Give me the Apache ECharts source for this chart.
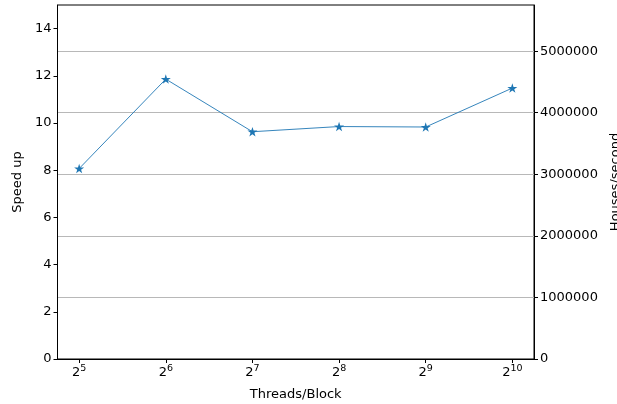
<!DOCTYPE html>
<html><head><meta charset="utf-8">
<script src="https://cdn.jsdelivr.net/npm/echarts@6/dist/echarts.min.js"></script>
<style>html,body{margin:0;padding:0;background:#fff}#c{width:617px;height:404px}</style>
</head><body><div id="c"></div>
<script>
const exponents = [5, 6, 7, 8, 9, 10];
const speedUp = [8.07, 11.86, 9.63, 9.85, 9.83, 11.48];
const leftTicks = [0, 2, 4, 6, 8, 10, 12, 14];
const rightTicks = [0, 1000000, 2000000, 3000000, 4000000, 5000000];

const F = 'DejaVu Sans';
const chart = echarts.init(document.getElementById('c'), null, {renderer: 'canvas'});
const star = 'path://M0,-100L22.45,-30.9L95.1,-30.9L36.3,11.8L58.8,80.9L0,38.2L-58.8,80.9L-36.3,11.8L-95.1,-30.9L-22.45,-30.9Z';
chart.setOption({
  animation: false,
  grid: {left: 57.5, right: 83, top: 5, bottom: 45, show: true, borderColor: '#000', borderWidth: 1,
         containLabel: false, outerBoundsMode: 'none'},
  xAxis: {
    type: 'value', min: 4.75, max: 10.25,
    name: 'Threads/Block', nameLocation: 'middle', nameGap: 29,
    nameTextStyle: {fontFamily: F, fontSize: 13, color: '#000'},
    axisLine: {show: true, lineStyle: {color: '#000', width: 1}},
    axisTick: {show: true, length: 4, lineStyle: {color: '#000'}, customValues: exponents},
    axisLabel: {
      customValues: exponents, margin: 5,
      formatter: v => '{b|2}{s|' + v + '}',
      rich: {
        b: {fontFamily: F, fontSize: 13, color: '#000'},
        s: {fontFamily: F, fontSize: 9.5, color: '#000', padding: [0, 0, 7, 0]}
      }
    },
    splitLine: {show: false}
  },
  yAxis: [{
    type: 'value', min: 0, max: 15, position: 'left',
    name: 'Speed up', nameLocation: 'middle', nameGap: 32, nameRotate: 90,
    nameTextStyle: {fontFamily: F, fontSize: 13, color: '#000'},
    axisLine: {show: true, lineStyle: {color: '#000', width: 1}},
    axisTick: {show: true, length: 4, lineStyle: {color: '#000'}, customValues: leftTicks},
    axisLabel: {customValues: leftTicks, fontFamily: F, fontSize: 13, color: '#000', margin: 6},
    splitLine: {show: false}
  }, {
    type: 'value', min: 0, max: 5750000, interval: 1000000, position: 'right',
    name: 'Houses/second', nameLocation: 'middle', nameGap: 70, nameRotate: 90,
    nameTextStyle: {fontFamily: F, fontSize: 13, color: '#000'},
    axisLine: {show: true, lineStyle: {color: '#000', width: 1}},
    axisTick: {show: true, length: 4, lineStyle: {color: '#000'}, customValues: rightTicks},
    axisLabel: {customValues: rightTicks, fontFamily: F, fontSize: 13, color: '#000', margin: 6,
                formatter: v => String(v)},
    splitLine: {show: true, lineStyle: {color: '#b8b8b8', width: 1}}
  }],
  series: [{
    type: 'line', yAxisIndex: 0,
    data: exponents.map((e, i) => [e, speedUp[i]]),
    symbol: star, symbolSize: [10, 9.5],
    itemStyle: {color: '#1f77b4'},
    lineStyle: {color: '#1f77b4', width: 0.9}
  }]
});
</script></body></html>
